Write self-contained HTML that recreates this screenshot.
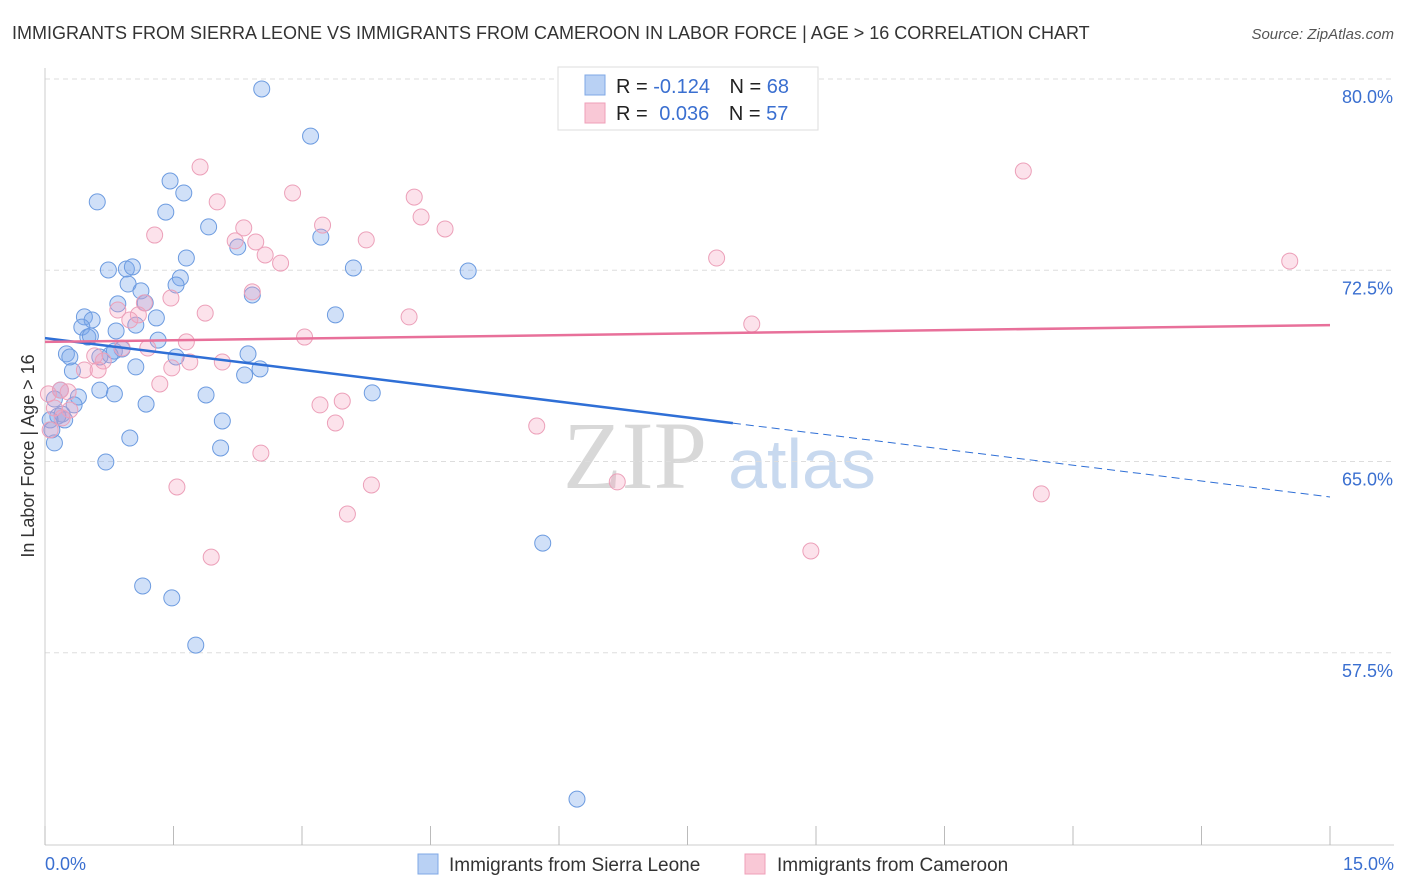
<!DOCTYPE html>
<html><head><meta charset="utf-8"><style>
body{margin:0;background:#fff;font-family:"Liberation Sans",sans-serif;}
svg{display:block}
</style></head><body>
<svg id="chart" width="1406" height="892" xmlns="http://www.w3.org/2000/svg">
<text x="12" y="39" font-size="18" fill="#333">IMMIGRANTS FROM SIERRA LEONE VS IMMIGRANTS FROM CAMEROON IN LABOR FORCE | AGE &gt; 16 CORRELATION CHART</text>
<text x="1394" y="39" font-size="15" fill="#555" text-anchor="end" font-style="italic">Source: ZipAtlas.com</text>
<g>
<text x="635" y="488" font-size="96" font-family="Liberation Serif,serif" fill="#d8d8d8" text-anchor="middle">ZIP</text>
<text x="802" y="488" font-size="70" fill="#c8d9ef" text-anchor="middle">atlas</text>
</g>
<g id="grid"></g><g id="axes"></g><g id="pts"></g><g id="lines"></g>
<text transform="translate(34,456) rotate(-90)" font-size="18" fill="#333" text-anchor="middle">In Labor Force | Age &gt; 16</text>
<g>
<rect x="558" y="67" width="260" height="63" fill="#fff" stroke="#ddd"/>
<rect x="585" y="75" width="20" height="20" fill="#b9d1f4" stroke="#7fa8e6"/>
<rect x="585" y="103" width="20" height="20" fill="#f9c8d6" stroke="#ef9fb8"/>
<text x="616" y="93" font-size="20" fill="#222">R = <tspan fill="#3a6fd0">-0.124</tspan>  <tspan dx="14">N = </tspan><tspan fill="#3a6fd0">68</tspan></text>
<text x="616" y="120" font-size="20" fill="#222">R = <tspan fill="#3a6fd0" dx="6">0.036</tspan>  <tspan dx="14">N = </tspan><tspan fill="#3a6fd0">57</tspan></text>
</g>
<g>
<rect x="418" y="854" width="20" height="20" fill="#b9d1f4" stroke="#7fa8e6"/>
<text x="449" y="871" font-size="19" fill="#333">Immigrants from Sierra Leone</text>
<rect x="745" y="854" width="20" height="20" fill="#f9c8d6" stroke="#ef9fb8"/>
<text x="777" y="871" font-size="19" fill="#333">Immigrants from Cameroon</text>
</g>
</svg>
<script>
const xTickLabels=["0.0%","15.0%"];
const yTicks=[57.5,65,72.5,80];
const yTickLabels=["57.5%","65.0%","72.5%","80.0%"];
const blueX=[2.53,3.10,1.46,1.62,0.61,1.41,1.91,3.22,2.25,1.65,0.74,0.95,1.02,1.58,1.53,0.97,1.12,3.60,4.94,2.42,0.85,1.17,0.46,0.55,1.30,3.39,0.43,1.06,0.83,0.50,1.32,0.25,0.29,0.64,0.81,0.90,1.53,2.37,0.32,1.06,2.51,2.33,0.64,0.81,3.82,1.88,0.39,0.11,0.34,1.18,0.20,0.15,2.07,0.99,0.11,2.05,0.71,5.81,1.14,1.48,1.76,6.21,0.06,0.53,0.76,0.18,0.08,0.23];
const blueY=[79.61,77.76,76.00,75.53,75.18,74.78,74.20,73.80,73.41,72.98,72.51,72.55,72.63,72.20,71.92,71.96,71.69,72.59,72.47,71.53,71.18,71.22,70.67,70.55,70.63,70.75,70.27,70.35,70.12,69.88,69.76,69.22,69.10,69.10,69.33,69.41,69.10,69.22,68.55,68.71,68.63,68.39,67.80,67.65,67.69,67.61,67.53,67.45,67.22,67.25,66.86,66.78,66.59,65.92,65.73,65.53,64.98,61.80,60.12,59.65,57.80,51.76,66.63,69.92,69.18,67.80,66.24,66.63];
const pinkX=[1.81,11.42,2.89,4.31,2.01,4.39,3.24,2.32,4.67,1.28,2.22,3.75,2.46,2.57,2.75,7.84,14.53,1.47,2.42,1.16,0.85,1.87,1.09,4.25,0.99,8.25,3.03,1.65,1.20,0.90,0.58,0.68,1.69,2.07,1.48,0.46,0.62,1.34,0.18,0.27,3.47,3.21,0.11,0.29,3.39,5.74,2.52,1.54,6.68,3.81,11.63,3.53,1.94,8.94,0.06,0.20,0.04];
const pinkY=[76.55,76.39,75.53,75.37,75.18,74.59,74.27,74.16,74.12,73.88,73.65,73.69,73.61,73.10,72.78,72.98,72.86,71.41,71.65,71.22,70.94,70.82,70.75,70.67,70.55,70.39,69.88,69.69,69.45,69.45,69.14,68.94,68.90,68.90,68.67,68.59,68.59,68.04,67.80,67.73,67.37,67.22,67.10,67.02,66.51,66.39,65.33,64.00,64.20,64.08,63.73,62.94,61.25,61.49,66.24,66.71,67.65];
const blueTrend=[69.84,63.61];
const blueSolidEnd=8.03;
const pinkTrend=[69.69,70.35];
const NS="http://www.w3.org/2000/svg";
const X=v=>45+v*(1330-45)/15;
const Y=v=>79+(80-v)*25.5;
function mk(tag,attrs,parent){const e=document.createElementNS(NS,tag);for(const k in attrs)e.setAttribute(k,attrs[k]);parent.appendChild(e);return e;}
const grid=document.getElementById('grid'),axes=document.getElementById('axes'),pts=document.getElementById('pts'),lines=document.getElementById('lines');
yTicks.forEach((t,i)=>{
 const l=mk('line',{x1:45,x2:1394,y1:Y(t),y2:Y(t),stroke:'#ddd','stroke-dasharray':'5,4'},grid);
 
 
 const tx=mk('text',{x:1393,y:Y(t)+24,'font-size':18,fill:'#3a6fd0','text-anchor':'end'},axes);
 tx.textContent=yTickLabels[i];
 
 
});
const ax=mk('line',{x1:45,x2:1394,y1:845,y2:845,stroke:'#ccc'},axes);


const ay=mk('line',{x1:45,x2:45,y1:68,y2:845,stroke:'#ccc'},axes);


for(let i=0;i<=10;i++){const v=i*1.5;const t=mk('line',{x1:X(v),x2:X(v),y1:826,y2:845,stroke:'#bbb'},axes);
 
 }
const xl0=mk('text',{x:45,y:870,'font-size':18,fill:'#3a6fd0'},axes);xl0.textContent=xTickLabels[0];


const xl1=mk('text',{x:1394,y:870,'font-size':18,fill:'#3a6fd0','text-anchor':'end'},axes);xl1.textContent=xTickLabels[1];


blueX.forEach((v,i)=>{const c=mk('circle',{cx:X(v),cy:Y(blueY[i]),r:8,fill:'rgba(120,165,235,0.35)',stroke:'#6c9be0','stroke-width':1},pts);
 
 });
pinkX.forEach((v,i)=>{const c=mk('circle',{cx:X(v),cy:Y(pinkY[i]),r:8,fill:'rgba(245,160,190,0.3)',stroke:'#eca0b9','stroke-width':1},pts);
 
 });
const by=v=>blueTrend[0]+(blueTrend[1]-blueTrend[0])*v/15;
const b1=mk('line',{x1:X(0),y1:Y(blueTrend[0]),x2:X(blueSolidEnd),y2:Y(by(blueSolidEnd)),stroke:'#2f6fd6','stroke-width':2.5},lines);


const b2=mk('line',{x1:X(blueSolidEnd),y1:Y(by(blueSolidEnd)),x2:X(15),y2:Y(blueTrend[1]),stroke:'#2f6fd6','stroke-width':1,'stroke-dasharray':'8,5'},lines);


const p1=mk('line',{x1:X(0),y1:Y(pinkTrend[0]),x2:X(15),y2:Y(pinkTrend[1]),stroke:'#e8709a','stroke-width':2.5},lines);


</script>
</body></html>
